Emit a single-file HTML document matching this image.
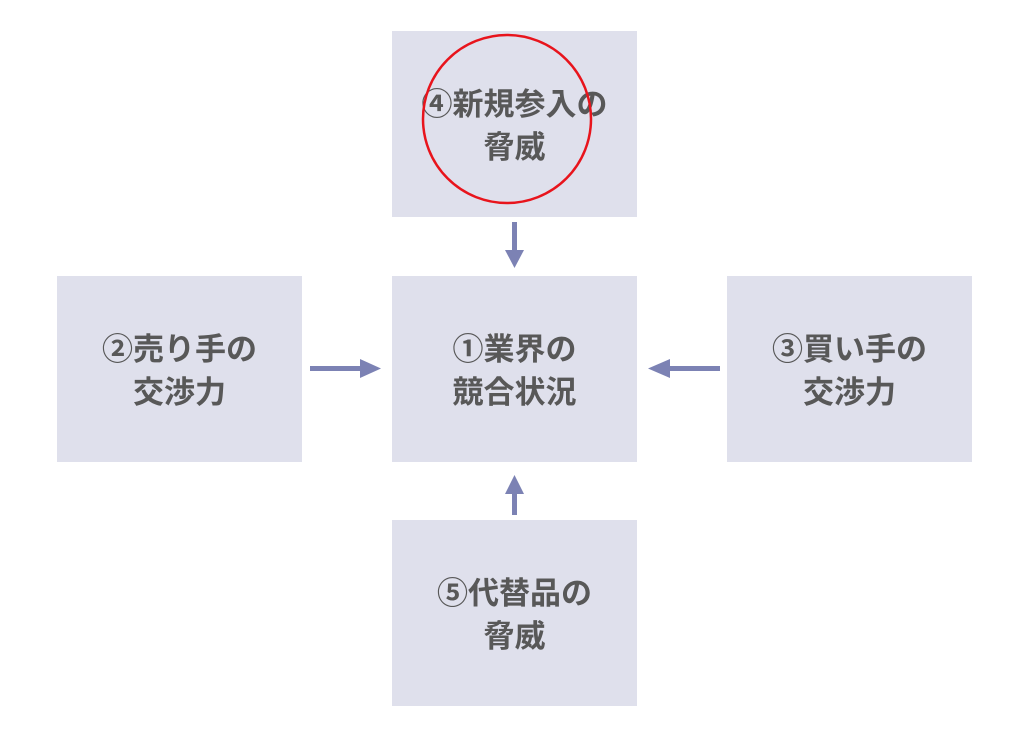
<!DOCTYPE html>
<html><head><meta charset="utf-8"><style>
body{margin:0;width:1024px;height:744px;background:#fff;position:relative;overflow:hidden;font-family:"Liberation Sans","Noto Sans CJK JP",sans-serif}
.b{position:absolute;width:245px;height:186px;background:#dfe0ec;display:flex;align-items:center;justify-content:center;text-align:center;color:#585858;font-weight:bold;font-size:31px;line-height:43px;padding-top:4px;box-sizing:border-box}
svg{position:absolute;left:0;top:0}
</style></head><body>
<div class="b" style="left:392px;top:31px">④新規参入の<br>脅威</div>
<div class="b" style="left:392px;top:276px">①業界の<br>競合状況</div>
<div class="b" style="left:57px;top:276px">②売り手の<br>交渉力</div>
<div class="b" style="left:727px;top:276px">③買い手の<br>交渉力</div>
<div class="b" style="left:392px;top:520px">⑤代替品の<br>脅威</div>
<svg width="1024" height="744">
<g fill="#7c82b4">
<rect x="512" y="222" width="5" height="30"/><polygon points="505,250 524,250 514.5,268"/>
<rect x="512" y="493" width="5" height="22"/><polygon points="505,494 524,494 514.5,475"/>
<rect x="310" y="366" width="52" height="5"/><polygon points="360,359 360,378 381,368.5"/>
<rect x="668" y="366" width="52" height="5"/><polygon points="670,359 670,378 648,368.5"/>
</g>
<circle cx="507" cy="119" r="84" fill="none" stroke="#e8141c" stroke-width="2.5"/>
</svg>
</body></html>
